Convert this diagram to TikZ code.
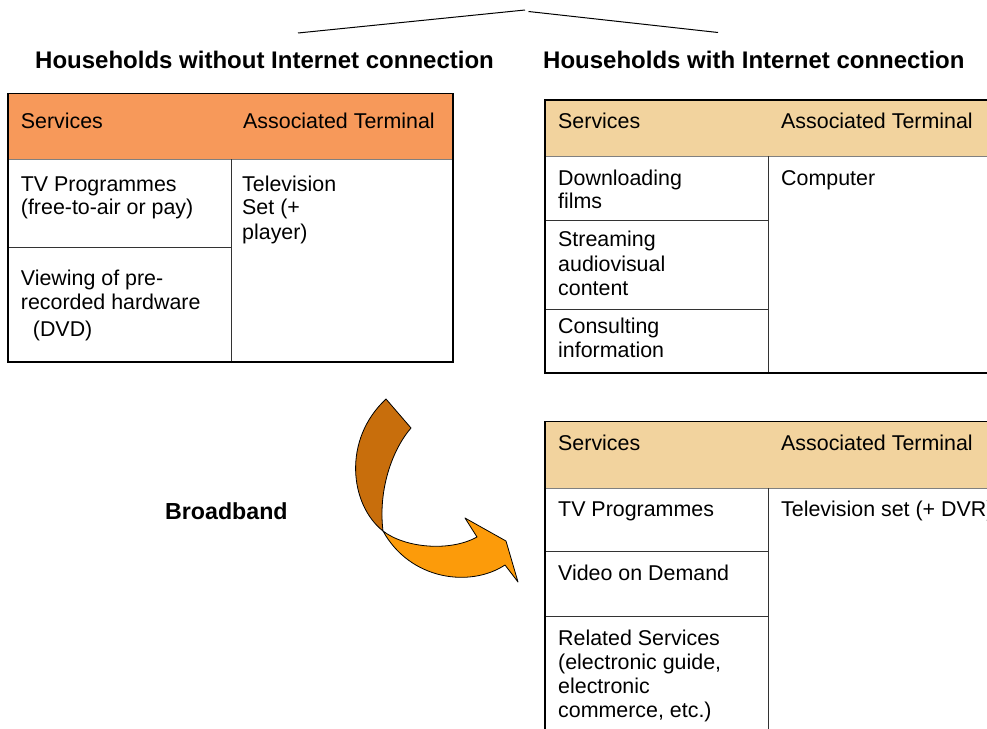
\documentclass[tikz,border=0pt]{standalone}
\usepackage{fontspec}
\setmainfont{Liberation Sans}
\usepackage{tikz}
\usetikzlibrary{positioning}
\definecolor{headorange}{RGB}{247,153,90}
\definecolor{headtan}{RGB}{242,211,158}
\definecolor{arrowbrown}{RGB}{200,110,12}
\definecolor{arroworange}{RGB}{252,155,10}
\newcommand{\cellstack}[1]{\begin{tabular}[t]{@{}l@{}}#1\end{tabular}}

\begin{document}
\begin{tikzpicture}[x=1pt,y=-1pt,
        cell/.style={anchor=base west,inner sep=0pt,font=\fontsize{21.4}{24.5}\selectfont},
        heading/.style={anchor=base west,inner sep=0pt,font=\fontsize{24}{28}\selectfont\bfseries},
        frame/.style={draw=black,line width=1.4pt},
        rule/.style={draw=black!80,line width=1pt},
        twist/.style={draw=black,line width=0.8pt,line join=round}]

    \clip (0,0) rectangle (987,728);

    % top bracket
    \coordinate (endL) at (298,33);
    \coordinate (apexL) at (525,10);
    \coordinate (apexR) at (528.5,11.5);
    \coordinate (endR) at (718,32.5);
    \draw[line width=1pt] (endL) -- (apexL) (apexR) -- (endR);

    \node[heading] (without) at (35,68.3) {Households without Internet connection};
    \node[heading] (with) at (543,68.3) {Households with Internet connection};

    % households without internet
    \fill[headorange] (8,93.5) rectangle (453,159);
    \draw[rule,black!50] (8,159) -- (453,159);
    \draw[rule] (231,159) -- (231,362);
    \draw[rule] (8,247) -- (231,247);
    \draw[frame] (8,93.5) rectangle (453,362);
    \draw[line width=2.4pt] (8,93.5) -- (8,362) -- (453,362);

    \node[cell] (lserv) at (20.7,128) {Services};
    \node[cell] (lterm) at (243,128) {Associated Terminal};
    \node[cell] (ltv) at (20.7,191) {\cellstack{TV Programmes\\[-1.5pt](free-to-air or pay)}};
    \node[cell] (lset) at (242,191) {\cellstack{Television\\[-1.5pt]Set (+\\[1pt]player)}};
    \node[cell] (ldvd) at (20.7,285) {\cellstack{Viewing of pre-\\recorded hardware\\[2pt]\hspace{12pt}(DVD)}};

    % households with internet: computer
    \fill[headtan] (545,100) rectangle (1000,156);
    \draw[rule,black!50] (545,156) -- (1000,156);
    \draw[rule] (768.7,156) -- (768.7,372.7);
    \draw[rule] (545,220) -- (768.7,220);
    \draw[rule] (545,309) -- (768.7,309);
    \draw[frame] (545,100) rectangle (1000,372.7);
    \draw[line width=2.4pt] (545,100) -- (545,372.7) -- (1000,372.7);

    \node[cell] (cserv) at (558,128.3) {Services};
    \node[cell] (cterm) at (781,128.3) {Associated Terminal};
    \node[cell] (cfilm) at (558,185) {\cellstack{Downloading\\[-1.5pt]films}};
    \node[cell] (ccomp) at (781,185) {Computer};
    \node[cell] (cstream) at (558,246.7) {\cellstack{Streaming\\audiovisual\\content}};
    \node[cell] (cinfo) at (558,333) {\cellstack{Consulting\\information}};

    % households with internet: television
    \fill[headtan] (545,421.7) rectangle (1000,488);
    \draw[rule,black!50] (545,488) -- (1000,488);
    \draw[rule] (768,488) -- (768,740);
    \draw[rule] (545,551.7) -- (768,551.7);
    \draw[rule] (545,616) -- (768,616);
    \draw[frame] (545,421.7) rectangle (1000,740);
    \draw[line width=2.4pt] (545,421.7) -- (545,740);

    \node[cell] (tserv) at (558,450.7) {Services};
    \node[cell] (tterm) at (781,450.7) {Associated Terminal};
    \node[cell] (ttv) at (558,516) {TV Programmes};
    \node[cell] (tset) at (781,516) {Television set (+ DVR)};
    \node[cell] (tvod) at (558,580) {Video on Demand};
    \node[cell] (trel) at (558,645) {\cellstack{Related Services\\(electronic guide,\\[-1pt]electronic\\commerce, etc.)}};

    % broadband arrow
    \node[heading,font=\fontsize{23.2}{28}\selectfont\bfseries] (broad) at (165,519) {Broadband};
    \filldraw[twist,fill=arrowbrown] (386,399) -- (411,428)
        .. controls (392,450) and (378,490) .. (383,531)
        .. controls (350,505) and (342,440) .. (386,399) -- cycle;
    \filldraw[twist,fill=arroworange] (383,531)
        .. controls (405,548) and (450,552) .. (477,537)
        -- (465,518) -- (506,541) -- (518,582) -- (505,565)
        .. controls (470,588) and (410,580) .. (383,531) -- cycle;

\end{tikzpicture}
\end{document}
